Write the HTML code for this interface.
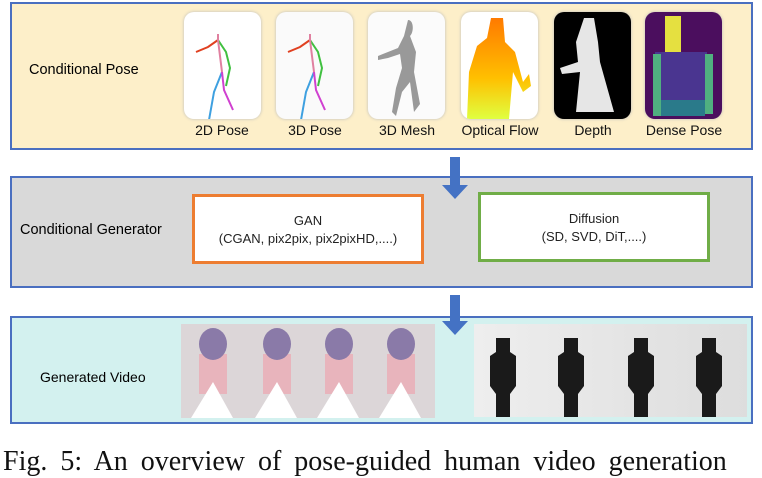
<!DOCTYPE html>
<html><head><meta charset="utf-8"><style>
body{margin:0;width:762px;height:456px;overflow:hidden;background:#fff;position:relative;font-family:"Liberation Sans",sans-serif}
.a{position:absolute}
.panel{position:absolute;border:2px solid #4a6fc0;box-sizing:border-box}
.th{position:absolute;top:12px;width:77px;height:107px;border-radius:10px;box-shadow:0 0 3px #bbb}
.lb{position:absolute;top:122px;font-size:14px;color:#111;text-align:center;width:100px}
.box{position:absolute;background:#fff;box-sizing:border-box;text-align:center;font-size:13px;color:#222;line-height:18px;padding-top:15px}
</style></head><body>
<div class="panel" style="left:10px;top:2px;width:743px;height:148px;background:#fdefc9"></div>
<div class="a" style="left:29px;top:62px;font-size:14.5px">Conditional Pose</div>
<div class="th" style="left:184px;background:#fff">
<svg width="77" height="107"><g stroke-width="2" fill="none"><path d="M34 28 L24 35 L12 40" stroke="#e04020"/><path d="M34 28 L42 40 L46 56 L42 74" stroke="#40c040"/><path d="M38 60 L30 80 L25 108" stroke="#3ea0e0"/><path d="M38 60 L40 78 L49 98" stroke="#d040d0"/><path d="M34 22 L34 28 L38 60" stroke="#e080a0"/></g></svg></div>
<div class="th" style="left:276px;background:#fafafa">
<svg width="77" height="107"><g stroke-width="2" fill="none"><path d="M34 28 L24 35 L12 40" stroke="#e04020"/><path d="M34 28 L42 40 L46 56 L42 74" stroke="#40c040"/><path d="M38 60 L30 80 L25 108" stroke="#3ea0e0"/><path d="M38 60 L40 78 L49 98" stroke="#d040d0"/><path d="M34 22 L34 28 L38 60" stroke="#e080a0"/></g></svg></div>
<div class="th" style="left:368px;background:#fbfbfb">
<svg width="77" height="107"><path d="M40 8 C46 8 46 20 42 24 L48 40 L46 60 L52 92 L46 100 L42 70 L34 80 L28 104 L24 100 L28 76 L34 56 L32 42 L20 46 L10 48 L10 44 L30 36 L36 24 Z" fill="#999"/></svg></div>
<div class="th" style="left:461px;background:#fff;overflow:hidden">
<svg width="77" height="107"><defs><linearGradient id="g" x1="0" y1="0" x2="0" y2="1"><stop offset="0" stop-color="#ff7a00"/><stop offset=".6" stop-color="#ffc000"/><stop offset="1" stop-color="#e0ff40"/></linearGradient></defs><path d="M30 6 L42 6 L44 30 L54 40 L62 70 L68 62 L70 74 L62 80 L52 60 L48 107 L6 107 L8 60 L16 34 L26 26 Z" fill="url(#g)"/></svg></div>
<div class="th" style="left:554px;background:#000;overflow:hidden">
<svg width="77" height="107"><path d="M30 6 L40 6 L44 30 L46 50 L60 100 L22 100 L26 60 L8 62 L6 56 L24 50 L22 30 Z" fill="#e6e6e6"/></svg></div>
<div class="th" style="left:645px;background:#4b0e5e;overflow:hidden">
<svg width="77" height="107"><rect x="20" y="4" width="16" height="38" fill="#e5e040"/><rect x="10" y="40" width="52" height="60" fill="#4a3590"/><rect x="8" y="42" width="8" height="62" fill="#50b080"/><rect x="60" y="42" width="8" height="60" fill="#50b080"/><rect x="16" y="88" width="44" height="16" fill="#2a7a8a"/></svg></div>
<div class="lb" style="left:172px">2D Pose</div>
<div class="lb" style="left:265px">3D Pose</div>
<div class="lb" style="left:357px">3D Mesh</div>
<div class="lb" style="left:450px">Optical Flow</div>
<div class="lb" style="left:543px">Depth</div>
<div class="lb" style="left:634px">Dense Pose</div>

<div class="panel" style="left:10px;top:176px;width:743px;height:112px;background:#d9d9d9"></div>
<div class="a" style="left:20px;top:222px;font-size:14.5px">Conditional Generator</div>
<div class="box" style="left:192px;top:194px;width:232px;height:70px;border:3px solid #ed7d31">GAN<br>(CGAN, pix2pix, pix2pixHD,....)</div>
<div class="box" style="left:478px;top:192px;width:232px;height:70px;border:3px solid #70ad47">Diffusion<br>(SD, SVD, DiT,....)</div>

<div class="panel" style="left:10px;top:316px;width:743px;height:108px;background:#d3f1ef"></div>
<div class="a" style="left:40px;top:369px;font-size:14px">Generated Video</div>
<div class="a" style="left:181px;top:324px;width:254px;height:94px;background:#dcd6d8"></div>
<svg class="a" style="left:181px;top:324px" width="254" height="94"><g fill="#e8b4bc"><rect x="18" y="30" width="28" height="40"/><rect x="82" y="30" width="28" height="40"/><rect x="144" y="30" width="28" height="40"/><rect x="206" y="30" width="28" height="40"/></g><g fill="#8a7aa8"><ellipse cx="32" cy="20" rx="14" ry="16"/><ellipse cx="96" cy="20" rx="14" ry="16"/><ellipse cx="158" cy="20" rx="14" ry="16"/><ellipse cx="220" cy="20" rx="14" ry="16"/></g><g fill="#fff"><path d="M10 94 L32 58 L52 94Z"/><path d="M74 94 L96 58 L116 94Z"/><path d="M136 94 L158 58 L178 94Z"/><path d="M198 94 L220 58 L240 94Z"/></g></svg>
<div class="a" style="left:474px;top:324px;width:273px;height:93px;background:linear-gradient(90deg,#eee,#ddd)"></div>
<svg class="a" style="left:474px;top:324px" width="273" height="93"><g fill="#1a1a1a"><path d="M22 14 h14 v14 l6 4 v30 l-6 8 v23 h-14 v-23 l-6 -8 v-30 l6 -4Z"/><path d="M90 14 h14 v14 l6 4 v30 l-6 8 v23 h-14 v-23 l-6 -8 v-30 l6 -4Z"/><path d="M160 14 h14 v14 l6 4 v30 l-6 8 v23 h-14 v-23 l-6 -8 v-30 l6 -4Z"/><path d="M228 14 h14 v14 l6 4 v30 l-6 8 v23 h-14 v-23 l-6 -8 v-30 l6 -4Z"/></g></svg>

<svg class="a" style="left:442px;top:157px" width="26" height="42"><path d="M8 0 H18 V28 H26 L13 42 L0 28 H8Z" fill="#4472c4"/></svg>
<svg class="a" style="left:442px;top:295px" width="26" height="40"><path d="M8 0 H18 V26 H26 L13 40 L0 26 H8Z" fill="#4472c4"/></svg>

<div class="a" style="left:3px;top:446px;font-family:'Liberation Serif',serif;font-size:28px;white-space:nowrap;word-spacing:6px;color:#111">Fig. 5: An overview of pose-guided human video generation</div>
</body></html>
